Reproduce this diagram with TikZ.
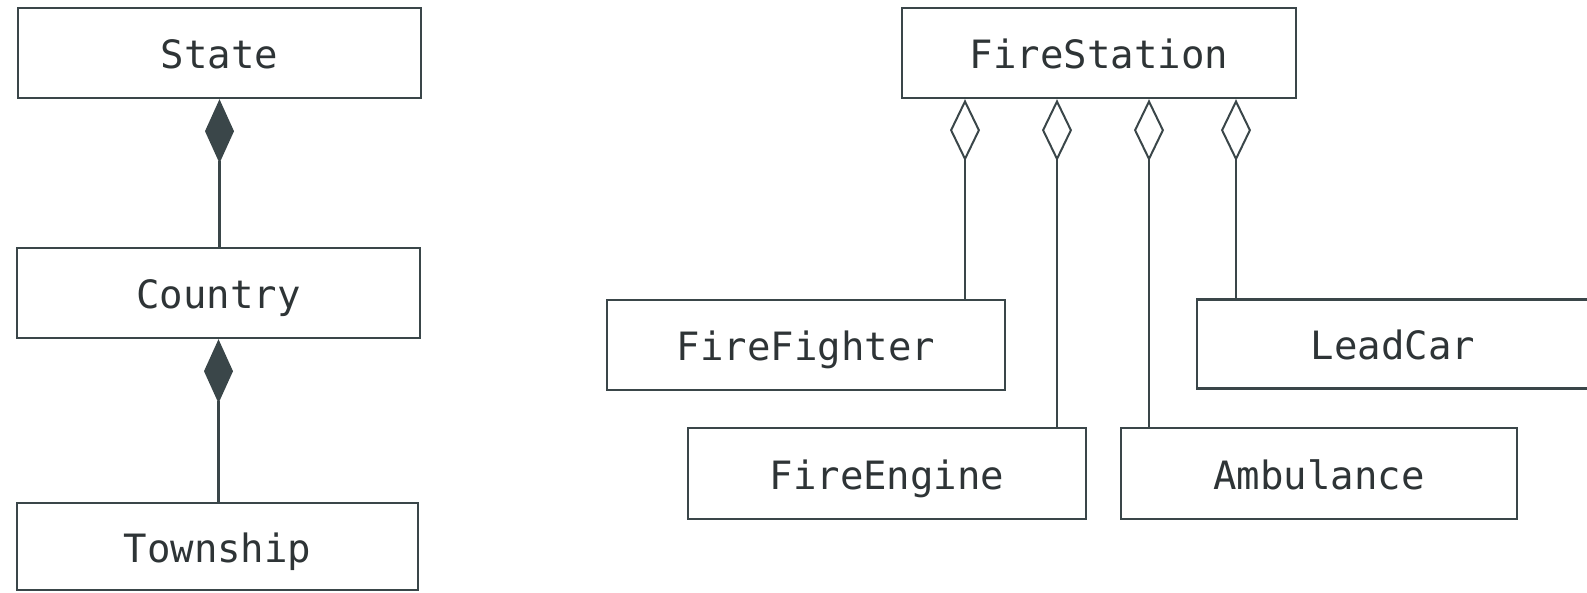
\documentclass[tikz,border=0pt]{standalone}
\usepackage{fontspec}
\setmonofont{DejaVu Sans Mono}
\usetikzlibrary{arrows.meta}
\definecolor{linec}{HTML}{3A4649}
\definecolor{textc}{HTML}{2E3436}
\tikzset{
  cls/.style={draw=linec, line width=1.2pt, rectangle, inner sep=0pt,
    text height=16pt, text depth=0pt,
    text=textc, font=\ttfamily\fontsize{19.5}{24}\selectfont},
  comp/.style={draw=linec, line width=1.1pt,
    {Diamond[length=32pt,width=14.5pt,fill=linec,line width=0.8pt]}-},
  aggr/.style={draw=linec, line width=1.1pt,
    {Diamond[open,length=31pt,width=15pt,line width=1pt]}-}
}
\begin{document}
\begin{tikzpicture}[x=0.5pt,y=-0.5pt]
\useasboundingbox (0,0) rectangle (1587,593);
% left hierarchy
\node[cls, minimum width=201.5pt, minimum height=45pt] (state) at (219.5,53) {State};
\node[cls, minimum width=201.5pt, minimum height=45pt] (country) at (218.5,293) {Country};
\node[cls, minimum width=200.5pt, minimum height=43.5pt] (township) at (217.5,546.5) {Township};
\draw[comp] (state.south) -- (state.south |- country.north);
\draw[comp] (country.south) -- (country.south |- township.north);
% right hierarchy
\node[cls, minimum width=197pt, minimum height=45pt] (fs) at (1099,53) {FireStation};
\node[cls, minimum width=199pt, minimum height=45pt] (ff) at (806,345) {FireFighter};
\node[cls, minimum width=196pt, minimum height=44.5pt] (lc) at (1393,344) {LeadCar};
\node[cls, minimum width=199pt, minimum height=45.5pt] (fe) at (887,473.5) {FireEngine};
\node[cls, minimum width=198pt, minimum height=45.5pt] (amb) at (1319,473.5) {Ambulance};
\coordinate (x1) at (965,0);
\coordinate (x2) at (1057,0);
\coordinate (x3) at (1149,0);
\coordinate (x4) at (1236,0);
\draw[aggr] (fs.south -| x1) -- (ff.north -| x1);
\draw[aggr] (fs.south -| x2) -- (fe.north -| x2);
\draw[aggr] (fs.south -| x3) -- (amb.north -| x3);
\draw[aggr] (fs.south -| x4) -- (lc.north -| x4);
\end{tikzpicture}
\end{document}
